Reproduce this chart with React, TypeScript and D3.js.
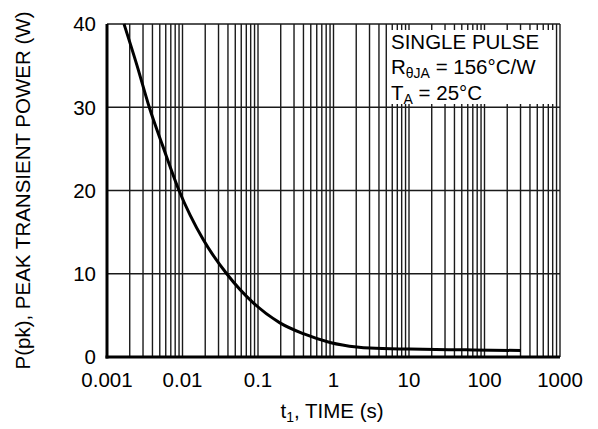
import React from 'react'
import * as d3 from 'd3'

// curve: time (s) vs peak power (W)
const times = [0.00168, 0.0025, 0.00363, 0.0055, 0.009, 0.0188, 0.0385, 0.0866, 0.195, 0.398, 0.9, 2.03, 3.04, 10.3, 58, 300]
const powers = [40, 35, 30, 25.3, 20, 14.1, 10, 6.5, 4.1, 2.8, 1.75, 1.2, 1.07, 0.95, 0.86, 0.78]

const xTicks = [0.001, 0.01, 0.1, 1, 10, 100, 1000]
const xTickLabels = ['0.001', '0.01', '0.1', '1', '10', '100', '1000']
const yTicks = [0, 10, 20, 30, 40]

const W = 598
const H = 429
const font = 'Arial, "Liberation Sans", Helvetica, sans-serif'
const fs = 20.5

const App = () => {
  const x = d3.scaleLog().domain([0.001, 1000]).range([107, 560])
  const y = d3.scaleLinear().domain([0, 40]).range([357, 24])

  // minor grid: 1..9 in each decade
  const minor: number[] = []
  for (let e = -3; e < 3; e++) {
    for (let m = 1; m <= 9; m++) minor.push(m * Math.pow(10, e))
  }
  minor.push(1000)

  const line = d3.line<number>()
    .x((d, i) => x(times[i]))
    .y(d => y(d))
    .curve(d3.curveMonotoneX)

  return (
    <svg width={W} height={H} style={{ position: 'absolute', left: 0, top: 0 }} fontFamily={font}>
      <rect width={W} height={H} fill="white" />
      {minor.map((t, i) => (
        <line key={'v' + i} x1={x(t)} x2={x(t)} y1={y(40)} y2={y(0)} stroke="#1a1a1a" strokeWidth={1.4} />
      ))}
      {yTicks.map(v => (
        <line key={'h' + v} x1={x(0.001)} x2={x(1000)} y1={y(v)} y2={y(v)} stroke="#1a1a1a" strokeWidth={1.4} />
      ))}

      {/* legend box */}
      <rect x={390} y={30} width={164} height={74} fill="white" />
      <g fontSize={fs} fill="#000">
        <text x={391} y={49}>SINGLE PULSE</text>
        <text x={391} y={74}>
          R<tspan fontSize={14} dy={4}>θJA</tspan><tspan dy={-4}> = 156°C/W</tspan>
        </text>
        <text x={391} y={100}>
          T<tspan fontSize={14} dy={4}>A</tspan><tspan dy={-4}> = 25°C</tspan>
        </text>
      </g>

      <path d={line(powers) || ''} fill="none" stroke="#000" strokeWidth={3} />

      {/* axes */}
      <line x1={x(0.001)} x2={x(0.001)} y1={y(40)} y2={y(0) + 1.5} stroke="#000" strokeWidth={3} />
      <line x1={x(0.001) - 1.5} x2={x(1000)} y1={y(0)} y2={y(0)} stroke="#000" strokeWidth={3} />

      <g fontSize={fs} fill="#000">
        {yTicks.map(v => (
          <text key={'yl' + v} x={96} y={y(v)} dy="0.36em" textAnchor="end">{v}</text>
        ))}
        {xTicks.map((t, i) => (
          <text key={'xl' + i} x={x(t)} y={387} textAnchor="middle">{xTickLabels[i]}</text>
        ))}
        <text x={332} y={418} textAnchor="middle">
          t<tspan fontSize={14} dy={4}>1</tspan><tspan dy={-4}>, TIME (s)</tspan>
        </text>
        <text transform={`translate(30,${(y(0) + y(40)) / 2}) rotate(-90)`} textAnchor="middle">
          P(pk), PEAK TRANSIENT POWER (W)
        </text>
      </g>
    </svg>
  )
}

export default App
